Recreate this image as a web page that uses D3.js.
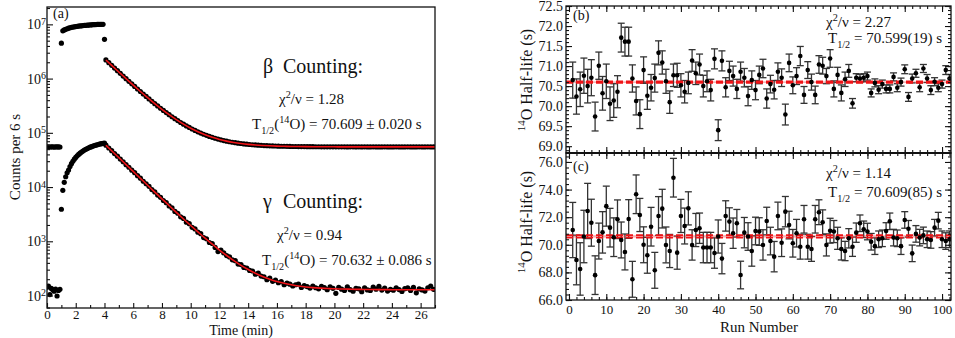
<!DOCTYPE html>
<html>
<head>
<meta charset="utf-8">
<script src="https://cdn.jsdelivr.net/npm/d3@7"></script>
<style>
  body { margin: 0; background: #fff; }
  text { font-family: "Liberation Serif", "Times New Roman", serif; fill: #111; }
</style>
</head>
<body>
<svg id="chart" width="955" height="338"></svg>
<script>
// ---- panel (a): counts per 6 s bin ----
const binMin = 0.1;        // 6 s bins
const beamOnStart = 1.0;   // min
const decayStart = 4.1;    // min
const decayStep = 0.2;     // every other bin is plotted in the decay part

const betaPre = [5.45e4, 5.5e4, 5.48e4, 5.52e4, 5.5e4, 5.47e4, 5.51e4, 5.49e4, 5.5e4, 5.48e4];
const betaOn = [4.5e6, 7.6e6, 7.9e6, 8.1e6, 8.3e6, 8.5e6, 8.65e6, 8.8e6, 8.9e6, 9.0e6,
  9.1e6, 9.2e6, 9.3e6, 9.35e6, 9.4e6, 9.5e6, 9.55e6, 9.6e6, 9.65e6, 9.7e6,
  9.75e6, 9.8e6, 9.85e6, 9.9e6, 9.9e6, 9.95e6, 9.95e6, 1.0e7, 1.0e7, 1.0e7, 5.3e6];
const betaDecay = [2.205e6, 1.966e6, 1.754e6, 1.565e6, 1.397e6, 1.248e6, 1.115e6, 9.97e5, 8.92e5, 7.99e5,
  7.17e5, 6.43e5, 5.78e5, 5.20e5, 4.68e5, 4.22e5, 3.81e5, 3.45e5, 3.13e5, 2.84e5,
  2.59e5, 2.36e5, 2.16e5, 1.98e5, 1.82e5, 1.68e5, 1.55e5, 1.442e5, 1.343e5, 1.255e5,
  1.176e5, 1.107e5, 1.045e5, 9.90e4, 9.41e4, 8.98e4, 8.59e4, 8.25e4, 7.94e4, 7.67e4,
  7.43e4, 7.21e4, 7.02e4, 6.85e4, 6.70e4, 6.57e4, 6.45e4, 6.35e4, 6.25e4, 6.17e4,
  6.09e4, 6.03e4, 5.97e4, 5.92e4, 5.87e4, 5.83e4, 5.79e4, 5.76e4, 5.73e4, 5.71e4,
  5.68e4, 5.66e4, 5.65e4, 5.63e4, 5.62e4, 5.60e4, 5.59e4, 5.58e4, 5.57e4, 5.57e4,
  5.56e4, 5.55e4, 5.55e4, 5.54e4, 5.54e4, 5.53e4, 5.53e4, 5.53e4, 5.52e4, 5.52e4,
  5.52e4, 5.51e4, 5.52e4, 5.51e4, 5.50e4, 5.51e4, 5.52e4, 5.50e4, 5.51e4, 5.50e4,
  5.51e4, 5.49e4, 5.50e4, 5.51e4, 5.50e4, 5.49e4, 5.50e4, 5.51e4, 5.50e4, 5.49e4,
  5.50e4, 5.51e4, 5.49e4, 5.50e4, 5.50e4, 5.51e4, 5.49e4, 5.50e4, 5.50e4, 5.51e4,
  5.49e4, 5.50e4, 5.51e4, 5.50e4, 5.50e4];

const gammaPre = [142, 150, 104, 135, 128, 120, 132, 98, 124, 130];
const gammaOn = [3.9e3, 8.7e3, 1.22e4, 1.55e4, 1.83e4, 2.06e4, 2.39e4, 2.70e4, 2.99e4, 3.26e4,
  3.52e4, 3.77e4, 4.00e4, 4.21e4, 4.42e4, 4.61e4, 4.80e4, 4.97e4, 5.13e4, 5.28e4,
  5.43e4, 5.56e4, 5.69e4, 5.81e4, 5.93e4, 6.03e4, 6.13e4, 6.23e4, 6.32e4, 6.40e4, 6.45e4];
const gammaDecay = [5.91e4, 5.25e4, 4.68e4, 4.15e4, 3.71e4, 3.28e4, 2.93e4, 2.59e4, 2.32e4, 2.05e4,
  1.84e4, 1.62e4, 1.46e4, 1.28e4, 1.15e4, 1.03e4, 9000, 8150, 7120, 6480,
  5650, 5150, 4480, 4120, 3560, 3290, 2830, 2640, 2250, 2110,
  1810, 1690, 1470, 1380, 1170, 1110, 950, 910, 770, 645,
  690, 610, 545, 515, 455, 440, 380, 372, 330, 322,
  290, 283, 248, 258, 228, 222, 196, 210, 183, 192,
  172, 181, 158, 170, 162, 150, 158, 163, 141, 152,
  146, 137, 150, 139, 133, 147, 140, 128, 144, 136,
  110, 141, 131, 124, 145, 128, 120, 136, 133, 118,
  139, 127, 124, 143, 131, 148, 126, 137, 121, 130,
  125, 139, 129, 119, 134, 138, 124, 141, 112, 133,
  127, 121, 139, 150, 130];

// fitted curves (red)
const fitTimes = [4.1, 4.5, 5, 5.5, 6, 6.5, 7, 7.5, 8, 8.5, 9, 9.5, 10, 10.5, 11, 11.5, 12, 12.5,
  13, 13.5, 14, 14.5, 15, 15.5, 16, 16.5, 17, 17.5, 18, 18.5, 19, 19.5, 20, 20.5, 21, 21.5,
  22, 22.5, 23, 23.5, 24, 24.5, 25, 25.5, 26, 26.5, 27];
const betaFit = [2.205e6, 1.754e6, 1.321e6, 9.98e5, 7.57e5, 5.78e5, 4.45e5, 3.45e5, 2.71e5, 2.16e5,
  1.75e5, 1.444e5, 1.216e5, 1.046e5, 9.19e4, 8.25e4, 7.55e4, 7.03e4, 6.64e4, 6.35e4,
  6.13e4, 5.97e4, 5.85e4, 5.76e4, 5.69e4, 5.65e4, 5.61e4, 5.58e4, 5.56e4, 5.545e4,
  5.53e4, 5.525e4, 5.52e4, 5.515e4, 5.51e4, 5.505e4,
  5.5e4, 5.5e4, 5.5e4, 5.5e4, 5.5e4, 5.5e4, 5.5e4, 5.5e4, 5.5e4, 5.5e4, 5.5e4];
const gammaFit = [5.91e4, 4.67e4, 3.49e4, 2.60e4, 1.94e4, 1.45e4, 1.08e4, 8090, 6060, 4550,
  3420, 2580, 1955, 1490, 1140, 883, 690, 547, 440, 360,
  301, 257, 224, 200, 181, 168, 158, 150, 144, 140,
  137, 135, 133, 132, 131, 130,
  129.5, 129, 128.7, 128.5, 128, 128, 128, 128, 128, 128, 128];

// ---- panels (b) and (c): half-life per run ----
const runs = d3.range(1, 103);
const betaRunT = [70.65, 70.24, 70.42, 70.76, 70.50, 70.71, 69.74, 71.01, 70.32, 70.62,
  70.06, 70.14, 70.36, 71.71, 71.61, 71.61, 70.69, 70.13, 69.80, 70.90,
  70.26, 70.46, 70.70, 71.33, 71.09, 70.62, 70.10, 70.77, 70.77, 70.52,
  70.36, 70.58, 71.14, 70.82, 71.04, 70.50, 70.62, 70.40, 71.18, 69.40,
  71.13, 70.47, 70.88, 70.75, 70.43, 70.86, 70.71, 70.25, 70.65, 70.40,
  70.78, 70.94, 70.19, 70.55, 70.41, 70.86, 70.71, 69.79, 71.08, 70.52,
  70.75, 71.25, 70.28, 70.90, 70.60, 70.28, 71.04, 71.01, 70.75, 71.19,
  70.43, 70.78, 70.33, 70.67, 70.88, 70.07, 70.71, 70.69, 70.71, 70.75,
  70.33, 70.58, 70.41, 70.55, 70.43, 70.43, 70.73, 70.46, 70.60, 70.92,
  70.23, 70.69, 70.82, 70.47, 70.94, 70.69, 70.40, 70.61, 70.46, 70.55,
  70.90, 70.69];
const betaRunErr = [0.45, 0.44, 0.43, 0.44, 0.42, 0.45, 0.36, 0.34, 0.42, 0.43,
  0.42, 0.42, 0.40, 0.36, 0.36, 0.36, 0.34, 0.35, 0.36, 0.33,
  0.34, 0.33, 0.35, 0.30, 0.29, 0.30, 0.28, 0.28, 0.30, 0.29,
  0.28, 0.27, 0.27, 0.28, 0.26, 0.27, 0.26, 0.27, 0.25, 0.26,
  0.25, 0.24, 0.24, 0.25, 0.24, 0.24, 0.23, 0.24, 0.23, 0.24,
  0.22, 0.23, 0.24, 0.22, 0.23, 0.22, 0.22, 0.26, 0.22, 0.21,
  0.21, 0.24, 0.21, 0.21, 0.20, 0.22, 0.22, 0.21, 0.19, 0.22,
  0.20, 0.19, 0.20, 0.18, 0.16, 0.12, 0.10, 0.10, 0.10, 0.10,
  0.10, 0.10, 0.10, 0.10, 0.10, 0.10, 0.10, 0.10, 0.10, 0.11,
  0.11, 0.11, 0.10, 0.11, 0.10, 0.10, 0.11, 0.10, 0.10, 0.10,
  0.11, 0.10];
const gammaRunT = [71.07, 68.90, 68.25, 70.60, 72.45, 71.60, 67.80, 70.27, 70.90, 72.80,
  71.24, 70.55, 71.85, 70.35, 69.48, 71.87, 67.50, 73.66, 72.16, 70.00,
  69.24, 71.31, 68.15, 72.09, 72.62, 69.99, 69.55, 74.86, 69.43, 72.09,
  71.36, 72.64, 69.99, 71.07, 71.20, 69.80, 69.80, 69.80, 69.40, 70.60,
  69.00, 72.09, 71.68, 70.84, 71.56, 67.81, 70.88, 70.60, 69.55, 71.00,
  70.96, 69.99, 71.72, 70.27, 69.14, 72.09, 70.15, 72.40, 71.43, 70.11,
  70.84, 69.86, 71.85, 69.86, 69.70, 71.85, 72.36, 71.63, 69.99, 71.02,
  70.96, 70.47, 69.70, 69.55, 70.47, 69.86, 70.88, 71.56, 71.12, 70.96,
  70.22, 69.90, 70.40, 70.47, 71.00, 71.70, 70.52, 70.47, 69.90, 71.80,
  71.16, 69.38, 70.79, 70.52, 70.68, 70.40, 70.35, 71.24, 71.75, 70.40,
  70.27, 70.40];
const gammaRunErr = [2.0, 1.8, 1.9, 1.9, 2.0, 1.7, 1.4, 1.3, 1.5, 1.45,
  1.4, 1.4, 1.4, 1.3, 1.3, 1.4, 1.3, 1.4, 1.2, 1.3,
  1.3, 1.4, 1.3, 1.4, 1.4, 1.3, 1.2, 1.4, 1.2, 1.2,
  1.3, 1.2, 1.1, 1.2, 1.1, 1.1, 1.1, 1.1, 1.1, 1.2,
  1.1, 1.1, 1.0, 1.1, 1.0, 1.0, 1.1, 1.0, 1.1, 1.0,
  1.0, 1.1, 1.0, 1.0, 1.1, 1.0, 1.0, 1.1, 1.0, 1.0,
  1.0, 0.9, 1.0, 0.9, 0.9, 1.0, 0.9, 0.9, 0.8, 0.9,
  0.8, 0.8, 0.8, 0.7, 0.7, 0.7, 0.7, 0.6, 0.6, 0.6,
  0.6, 0.6, 0.6, 0.6, 0.6, 0.6, 0.6, 0.6, 0.6, 0.6,
  0.6, 0.6, 0.6, 0.6, 0.6, 0.6, 0.6, 0.6, 0.6, 0.6,
  0.6, 0.6];
const betaMean = 70.599, betaMeanErr = 0.019;
const gammaMean = 70.609, gammaMeanErr = 0.085;

const svg = d3.select('#chart');
const RED = '#f01418';

function rich(x, y, size, parts, opts = {}) {
  const t = svg.append('text').attr('font-size', size);
  if (opts.rotate) t.attr('transform', `translate(${x},${y}) rotate(-90)`);
  else t.attr('x', x).attr('y', y);
  if (opts.anchor) t.attr('text-anchor', opts.anchor);
  let shift = 0;
  parts.forEach(([s, kind]) => {
    const target = kind === 'sup' ? -0.42 * size : kind === 'sub' ? 0.3 * size : 0;
    const sp = t.append('tspan').attr('dy', target - shift).text(s);
    if (kind) sp.attr('font-size', size * 0.68);
    shift = target;
  });
  return t;
}

function drawAxis(orient, scale, pos, values, len, fmt, pad, size) {
  const a = orient(scale).tickValues(values).tickSizeInner(-len).tickSizeOuter(0)
    .tickPadding(pad || 3).tickFormat(fmt || (() => ''));
  const g = svg.append('g').attr('transform', pos).call(a)
    .attr('font-family', '"Liberation Serif", serif').attr('font-size', size || 14);
  g.select('.domain').remove();
  g.selectAll('.tick line').attr('stroke', '#111').attr('stroke-width', 1.1);
  return g;
}

// ================= panel (a) =================
const xA = d3.scaleLinear().domain([0, 27]).range([47, 435]);
const yA = d3.scaleLog().domain([Math.pow(10, 1.77), Math.pow(10, 7.32)]).range([308, 7]);

function toPoints(pre, on, decay) {
  return pre.map((v, i) => ({ t: i * binMin, v }))
    .concat(on.map((v, i) => ({ t: beamOnStart + i * binMin, v })))
    .concat(decay.map((v, i) => ({ t: decayStart + i * decayStep, v })));
}

svg.append('clipPath').attr('id', 'clipA').append('rect')
  .attr('x', 47).attr('y', 7).attr('width', 388).attr('height', 301);
const plotA = svg.append('g').attr('clip-path', 'url(#clipA)');

plotA.selectAll('circle')
  .data(toPoints(betaPre, betaOn, betaDecay).concat(toPoints(gammaPre, gammaOn, gammaDecay)))
  .join('circle')
  .attr('cx', d => xA(d.t))
  .attr('cy', d => yA(d.v))
  .attr('r', 2.6)
  .attr('fill', '#000');

const fitLine = d3.line().x(d => xA(d[0])).y(d => yA(d[1])).curve(d3.curveMonotoneX);
[betaFit, gammaFit].forEach(f => {
  plotA.append('path')
    .datum(fitTimes.map((t, i) => [t, f[i]]))
    .attr('d', fitLine)
    .attr('fill', 'none')
    .attr('stroke', RED)
    .attr('stroke-width', 1.6);
});

// axes (a)
drawAxis(d3.axisBottom, xA, 'translate(0,308)', d3.range(0, 27, 2), 5, d => d, 2, 13);
drawAxis(d3.axisBottom, xA, 'translate(0,308)', d3.range(1, 28, 2), 3);
const decades = [1e2, 1e3, 1e4, 1e5, 1e6, 1e7];
const yAxA = drawAxis(d3.axisLeft, yA, 'translate(47,0)', decades, 6, () => '', 1);
yAxA.selectAll('.tick text').each(function (d) {
  const t = d3.select(this);
  t.append('tspan').text('10');
  t.append('tspan').attr('dy', '-0.45em').attr('font-size', 10).text(Math.round(Math.log10(d)));
});
const minorA = [];
decades.forEach(d => d3.range(2, 10).forEach(m => { if (d * m < yA.domain()[1]) minorA.push(d * m); }));
[60].forEach(v => { if (v > yA.domain()[0]) minorA.push(v); });
drawAxis(d3.axisLeft, yA, 'translate(47,0)', minorA, 3);

svg.append('rect').attr('x', 47).attr('y', 7).attr('width', 388).attr('height', 301)
  .attr('fill', 'none').attr('stroke', '#111').attr('stroke-width', 1.3);

rich(53, 18, 14, [['(a)']]);
rich(263, 73, 20, [['β']]);
rich(283, 73, 20, [['Counting:']]);
rich(279, 104, 15, [['χ'], ['2', 'sup'], ['/ν = 1.28']]);
rich(252, 129, 15, [['T'], ['1/2', 'sub'], ['('], ['14', 'sup'], ['O) = 70.609 ± 0.020 s']]);
rich(263, 208, 20, [['γ']]);
rich(283, 208, 20, [['Counting:']]);
rich(277, 240, 15, [['χ'], ['2', 'sup'], ['/ν = 0.94']]);
rich(262, 265, 15, [['T'], ['1/2', 'sub'], ['('], ['14', 'sup'], ['O) = 70.632 ± 0.086 s']]);
rich(241, 335, 14, [['Time (min)']], { anchor: 'middle' });
rich(20, 157, 15, [['Counts per 6 s']], { anchor: 'middle', rotate: true });

// ================= panels (b), (c) =================
const xR = d3.scaleLinear().domain([-0.8, 102.4]).range([566, 951]);
const panels = [
  { id: 'b', vals: betaRunT, errs: betaRunErr, mean: betaMean, meanErr: betaMeanErr,
    y: d3.scaleLinear().domain([68.83, 72.5]).range([153, 6]),
    major: d3.range(690, 726, 5).map(v => v / 10), minor: d3.range(689, 726).map(v => v / 10),
    top: 6, bottom: 153, label: 80,
    chi: '/ν = 2.27', thalf: ' = 70.599(19) s', chiY: 27, tY: 43, tag: 20 },
  { id: 'c', vals: gammaRunT, errs: gammaRunErr, mean: gammaMean, meanErr: gammaMeanErr,
    y: d3.scaleLinear().domain([66, 76.65]).range([300, 153]),
    major: d3.range(66, 77, 2), minor: d3.range(0, 27).map(k => 66 + k * 0.4),
    top: 153, bottom: 300, label: 222,
    chi: '/ν = 1.14', thalf: ' = 70.609(85) s', chiY: 178, tY: 197, tag: 171 }
];

panels.forEach(p => {
  const y = p.y;
  svg.append('clipPath').attr('id', 'clip' + p.id).append('rect')
    .attr('x', 566).attr('y', p.top).attr('width', 385).attr('height', p.bottom - p.top);
  const g = svg.append('g').attr('clip-path', `url(#clip${p.id})`);
  const pts = runs.map((r, i) => ({ r, v: p.vals[i], e: p.errs[i] }));

  // error bars
  const eb = g.append('g').attr('stroke', '#333').attr('stroke-width', 1.3);
  eb.selectAll('line.v').data(pts).join('line').attr('class', 'v')
    .attr('x1', d => xR(d.r)).attr('x2', d => xR(d.r))
    .attr('y1', d => y(d.v - d.e)).attr('y2', d => y(d.v + d.e));
  [1, -1].forEach(s => {
    eb.selectAll('line.c' + (s > 0 ? 'u' : 'd')).data(pts).join('line').attr('class', 'c' + (s > 0 ? 'u' : 'd'))
      .attr('x1', d => xR(d.r) - 3.5).attr('x2', d => xR(d.r) + 3.5)
      .attr('y1', d => y(d.v + s * d.e)).attr('y2', d => y(d.v + s * d.e));
  });

  // weighted mean with its uncertainty
  g.append('rect').attr('x', 566).attr('width', 385)
    .attr('y', y(p.mean + p.meanErr)).attr('height', y(p.mean - p.meanErr) - y(p.mean + p.meanErr))
    .attr('fill', RED).attr('fill-opacity', 0.35);
  [p.mean + p.meanErr, p.mean - p.meanErr].forEach(v => {
    g.append('line').attr('x1', 566).attr('x2', 951).attr('y1', y(v)).attr('y2', y(v))
      .attr('stroke', RED).attr('stroke-width', 1.7).attr('stroke-dasharray', '7,3');
  });

  g.selectAll('circle').data(pts).join('circle')
    .attr('cx', d => xR(d.r)).attr('cy', d => y(d.v)).attr('r', 2.3).attr('fill', '#000');

  // axes
  const majorX = d3.range(0, 101, 10), minorX = d3.range(0, 103, 2);
  drawAxis(d3.axisTop, xR, `translate(0,${p.top})`, majorX, 6);
  drawAxis(d3.axisTop, xR, `translate(0,${p.top})`, minorX, 3);
  drawAxis(d3.axisBottom, xR, `translate(0,${p.bottom})`, majorX, 6,
    p.id === 'c' ? (d => d) : null, 5, 13);
  drawAxis(d3.axisBottom, xR, `translate(0,${p.bottom})`, minorX, 3);
  drawAxis(d3.axisLeft, y, 'translate(566,0)', p.major, 6, d => d.toFixed(1), 3);
  drawAxis(d3.axisLeft, y, 'translate(566,0)', p.minor, 3);
  drawAxis(d3.axisRight, y, 'translate(951,0)', p.major, 6);
  drawAxis(d3.axisRight, y, 'translate(951,0)', p.minor, 3);

  svg.append('rect').attr('x', 566).attr('y', p.top).attr('width', 385).attr('height', p.bottom - p.top)
    .attr('fill', 'none').attr('stroke', '#111').attr('stroke-width', 1.3);

  rich(573, p.tag, 14, [['(' + p.id + ')']]);
  rich(826, p.chiY, 15, [['χ'], ['2', 'sup'], [p.chi]]);
  rich(828, p.tY, 15, [['T'], ['1/2', 'sub'], [p.thalf]]);
  rich(532, p.label, 16, [['14', 'sup'], ['O Half-life (s)']], { anchor: 'middle', rotate: true });
});

svg.append('line').attr('x1', 566).attr('x2', 951).attr('y1', 153).attr('y2', 153)
  .attr('stroke', '#111').attr('stroke-width', 2.2);
rich(759, 332, 15, [['Run Number']], { anchor: 'middle' });
</script>
</body>
</html>
